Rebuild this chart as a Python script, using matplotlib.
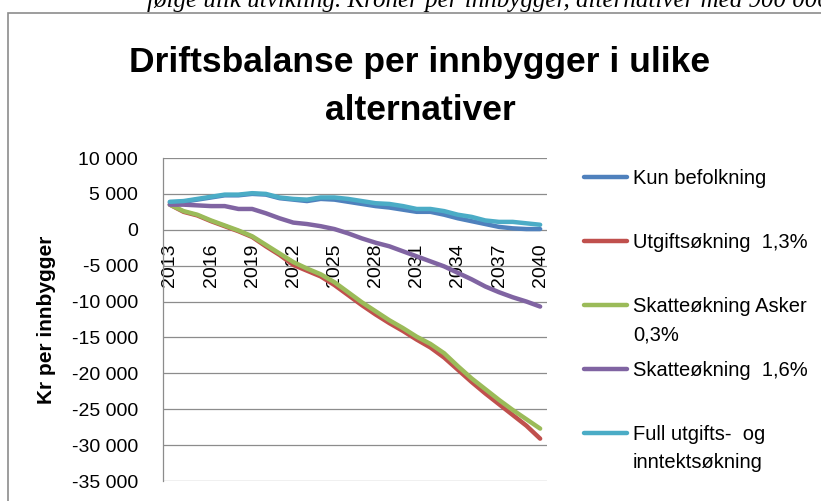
import numpy as np
import matplotlib
matplotlib.use("Agg")
import matplotlib.pyplot as plt
from matplotlib.patches import Rectangle
from matplotlib.lines import Line2D
from matplotlib.ticker import FuncFormatter

# Data (kr per innbygger, 2013-2040)
years = list(range(2013, 2041))

kun_befolkning = [3800, 3900, 4200, 4500, 4800, 4800, 5000, 4900, 4400, 4200,
                  4000, 4300, 4200, 3900, 3600, 3300, 3100, 2800, 2500, 2500,
                  2100, 1600, 1200, 800, 400, 200, 100, 100]
utgiftsokning = [3500, 2500, 2000, 1200, 500, -200, -1000, -2300, -3500, -4900,
                 -5700, -6500, -7700, -9100, -10500, -11800, -13000, -14100, -15300, -16400,
                 -17800, -19500, -21200, -22800, -24300, -25800, -27300, -29100]
skatt_asker = [3500, 2600, 2100, 1300, 600, -100, -900, -2100, -3300, -4500,
               -5400, -6200, -7300, -8700, -10100, -11350, -12600, -13700, -14900, -15900,
               -17200, -19000, -20700, -22200, -23700, -25100, -26400, -27700]
skatt_16 = [3500, 3500, 3400, 3300, 3300, 2900, 2900, 2300, 1600, 1000,
            800, 500, 100, -500, -1200, -1800, -2300, -3000, -3700, -4400,
            -5100, -6000, -6900, -7900, -8700, -9400, -10000, -10700]
full_okning = [3900, 4000, 4300, 4600, 4900, 4900, 5100, 5000, 4500, 4300,
               4200, 4500, 4500, 4300, 4000, 3700, 3600, 3300, 2900, 2900,
               2600, 2100, 1800, 1300, 1100, 1100, 900, 700]

series = [kun_befolkning, utgiftsokning, skatt_asker, skatt_16, full_okning]
labels = ["Kun befolkning", "Utgiftsøkning  1,3%", "Skatteøkning Asker\n0,3%",
          "Skatteøkning  1,6%", "Full utgifts-  og\ninntektsøkning"]
colors = ["#4F81BD", "#C0504D", "#9BBB59", "#8064A2", "#4BACC6"]

W, H = 821, 501
fig = plt.figure(figsize=(W / 100, H / 100), dpi=100)

def fx(px):
    return px / W

def fy(py):
    return 1 - py / H

# cut-off caption line above the chart
fig.text(fx(147), fy(7), "følge ulik utvikling. Kroner per innbygger, alternativer med 900 000 innbyggere",
         fontsize=18, family="Liberation Serif", style="italic", va="baseline", ha="left")

# chart frame (continues outside the crop)
fig.add_artist(Rectangle((fx(8), -0.2), 1.2, fy(13) + 0.2, transform=fig.transFigure,
                         fill=False, edgecolor="#8C8C8C", lw=1.2))

title = "Driftsbalanse per innbygger i ulike\nalternativer"
for k, line in enumerate(title.split("\n")):
    fig.text(fx(420), fy(72 + k * 48), line, ha="center", va="baseline",
             fontsize=25.5, fontweight="bold", family="Liberation Sans")

ax = fig.add_axes([fx(163), fy(481), fx(547) - fx(163), fy(158) - fy(481)])
ax.spines["bottom"].set_position(("data", 0))
ax.spines["bottom"].set_visible(False)
ax.spines["top"].set_visible(False)
ax.spines["right"].set_visible(False)
ax.spines["left"].set_color("#8C8C8C")
ax.spines["left"].set_linewidth(0.9)

x = np.arange(len(years))
for vals, c in zip(series, colors):
    ax.plot(x, vals, color=c, lw=3.2, solid_capstyle="round", solid_joinstyle="round")

ax.set_xlim(-0.5, len(years) - 0.5)
ax.set_ylim(-35000, 10000)
ax.set_yticks(np.arange(-35000, 10001, 5000))
ax.yaxis.set_major_formatter(FuncFormatter(lambda v, p: f"{int(v):,}".replace(",", " ")))
ax.grid(axis="y", color="#8C8C8C", lw=0.9)
ax.set_axisbelow(True)

ax.set_xticks(x[::3])
ax.set_xticklabels([str(y) for y in years[::3]])
ax.tick_params(axis="x", length=0, pad=10, labelsize=14, labelrotation=90)
ax.tick_params(axis="y", length=0, pad=18, labelsize=14)
for t in ax.get_xticklabels() + ax.get_yticklabels():
    t.set_family("Liberation Sans")

ax.set_ylabel("Kr per innbygger", fontsize=15, fontweight="bold", family="Liberation Sans")
ax.yaxis.label.set_va("center")
ax.yaxis.set_label_coords((47 - 163) / (547 - 163), 0.5)

# legend drawn at the right, first lines aligned with the handles
y0 = 177
for i, (lab, c) in enumerate(zip(labels, colors)):
    yy = y0 + i * 64
    fig.add_artist(Line2D([fx(584), fx(627)], [fy(yy), fy(yy)], color=c, lw=3.2,
                          solid_capstyle="round", transform=fig.transFigure))
    for k, line in enumerate(lab.split("\n")):
        fig.text(fx(633), fy(yy + k * 28), line, fontsize=14.5, family="Liberation Sans",
                 va="center_baseline", ha="left")

fig.savefig("out.png", dpi=100)
